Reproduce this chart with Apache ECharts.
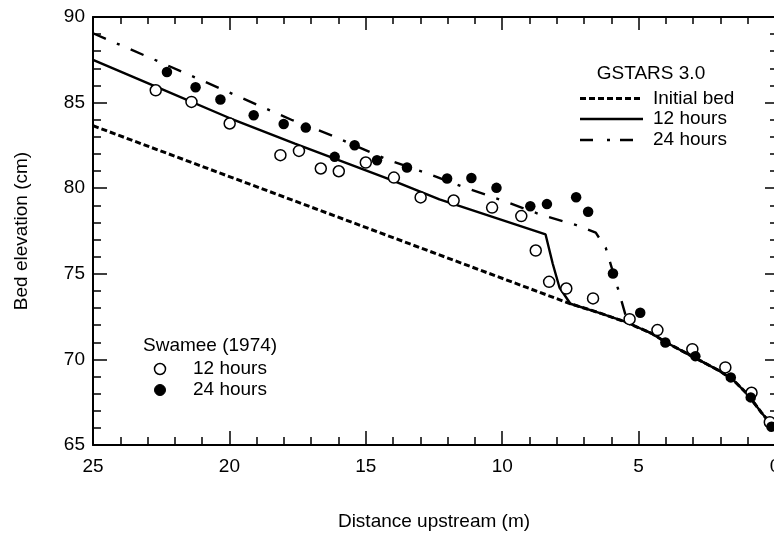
<!DOCTYPE html>
<html>
<head>
<meta charset="utf-8">
<script src="https://cdn.jsdelivr.net/npm/echarts@6/dist/echarts.min.js"></script>
<style>
html,body{margin:0;padding:0;background:#fff;}
#chart{width:774px;height:535px;}
</style>
</head>
<body>
<div id="chart"></div>
<script>
const initialBedX = [25, 7.5, 6.5, 5.5, 4.5, 4.0, 3.0, 2.0, 1.5, 1.0, 0.5, 0];
const initialBedY = [83.65, 73.25, 72.75, 72.2, 71.5, 71.0, 70.15, 69.3, 68.75, 67.95, 66.9, 65.95];
const run12X = [25, 22.5, 20, 17.6, 14.1, 12.3, 10.3, 8.41, 8.15, 7.9, 7.5, 6.5, 5.5, 4.5, 4.0, 3.0, 2.0, 1.5, 1.0, 0.5, 0];
const run12Y = [87.5, 85.8, 84.1, 82.6, 80.5, 79.35, 78.3, 77.3, 75.6, 74.2, 73.25, 72.75, 72.2, 71.5, 71.0, 70.15, 69.3, 68.75, 67.95, 66.9, 65.95];
const run24X = [25, 22.55, 19.72, 17.69, 16.26, 14.24, 12.9, 11.44, 10.03, 8.63, 7.28, 6.57, 6.2, 5.75, 5.4, 4.5, 4.0, 3.0, 2.0, 1.5, 1.0, 0.5, 0];
const run24Y = [89.05, 87.37, 85.39, 83.97, 83.09, 81.69, 80.95, 80.08, 79.3, 78.48, 77.84, 77.4, 76.5, 74.1, 72.15, 71.5, 71.0, 70.15, 69.3, 68.75, 67.95, 66.9, 65.95];
const obs12X = [22.70, 21.39, 19.99, 18.13, 17.45, 16.65, 15.99, 15.00, 13.97, 12.99, 11.78, 10.37, 9.30, 8.77, 8.28, 7.65, 6.67, 5.33, 4.31, 3.03, 1.82, 0.86, 0.19];
const obs12Y = [85.72, 85.04, 83.78, 81.93, 82.18, 81.15, 80.99, 81.50, 80.62, 79.46, 79.28, 78.87, 78.37, 76.36, 74.53, 74.14, 73.56, 72.35, 71.71, 70.60, 69.53, 68.05, 66.33];
const obs24X = [22.29, 21.24, 20.33, 19.11, 18.01, 17.20, 16.14, 15.41, 14.59, 13.49, 12.02, 11.13, 10.21, 8.97, 8.36, 7.29, 6.85, 5.94, 4.94, 4.02, 2.92, 1.62, 0.89, 0.13];
const obs24Y = [86.79, 85.90, 85.18, 84.26, 83.75, 83.54, 81.83, 82.51, 81.63, 81.21, 80.57, 80.60, 80.02, 78.95, 79.07, 79.47, 78.62, 75.02, 72.72, 70.99, 70.19, 68.95, 67.78, 66.07];
const xRange = [0, 25];
const yRange = [65, 90];
const majorStep = 5;
const minorStep = 1;
const modelLegendTitle = 'GSTARS 3.0';
const modelLabels = ['Initial bed', '12 hours', '24 hours'];
const obsLegendTitle = 'Swamee (1974)';
const obsLabels = ['12 hours', '24 hours'];

const pairs = (xs, ys) => xs.map((x, i) => [x, ys[i]]);
const FONT = '"Liberation Sans", Arial, Helvetica, sans-serif';
const BLACK = '#000';

function axis(dim, gridIndex, position, step, tickLen, showLine, extra) {
  const range = dim === 'x' ? xRange : yRange;
  return Object.assign({
    type: 'value', gridIndex: gridIndex, position: position,
    min: range[0], max: range[1], interval: step, inverse: dim === 'x',
    axisLine: { show: showLine, onZero: false, lineStyle: { color: BLACK, width: 2 } },
    axisTick: { show: true, inside: true, length: tickLen, lineStyle: { color: BLACK, width: 1.5 } },
    axisLabel: { show: false },
    splitLine: { show: false }
  }, extra || {});
}

const chart = echarts.init(document.getElementById('chart'), null, { renderer: 'canvas' });

const legendItems = [];
legendItems.push({ type: 'text', x: 651, y: 74, style: { text: modelLegendTitle, font: '19px ' + FONT, fill: BLACK, textAlign: 'center', textVerticalAlign: 'middle' } });
const lineYs = [98.5, 119, 140];
const lineDashes = [[6, 3], null, [13, 14, 3, 10]];
lineYs.forEach((ly, i) => {
  legendItems.push({ type: 'line', shape: { x1: 580, y1: ly, x2: i === 2 ? 633 : 643, y2: ly }, style: { stroke: BLACK, lineWidth: i === 0 ? 3 : 2.5, lineDash: lineDashes[i] } });
  legendItems.push({ type: 'text', x: 653, y: ly, style: { text: modelLabels[i], font: '19px ' + FONT, fill: BLACK, textAlign: 'left', textVerticalAlign: 'middle' } });
});
legendItems.push({ type: 'text', x: 143, y: 346, style: { text: obsLegendTitle, font: '19px ' + FONT, fill: BLACK, textAlign: 'left', textVerticalAlign: 'middle' } });
legendItems.push({ type: 'circle', shape: { cx: 160, cy: 369, r: 5.5 }, style: { fill: '#fff', stroke: BLACK, lineWidth: 1.5 } });
legendItems.push({ type: 'text', x: 193, y: 369, style: { text: obsLabels[0], font: '19px ' + FONT, fill: BLACK, textAlign: 'left', textVerticalAlign: 'middle' } });
legendItems.push({ type: 'circle', shape: { cx: 160, cy: 390, r: 5.5 }, style: { fill: BLACK, stroke: BLACK, lineWidth: 1 } });
legendItems.push({ type: 'text', x: 193, y: 390, style: { text: obsLabels[1], font: '19px ' + FONT, fill: BLACK, textAlign: 'left', textVerticalAlign: 'middle' } });

const gridRect = { left: 93, width: 682, top: 17, height: 428, containLabel: false, outerBoundsMode: 'none' };

const option = {
  backgroundColor: '#fff',
  animation: false,
  textStyle: { fontFamily: FONT },
  grid: [Object.assign({}, gridRect), Object.assign({}, gridRect)],
  xAxis: [
    axis('x', 0, 'bottom', majorStep, 14, true, {
      axisLabel: { show: true, fontSize: 19, color: BLACK, margin: 12, fontFamily: FONT },
      name: 'Distance upstream (m)', nameLocation: 'middle', nameGap: 67,
      nameTextStyle: { fontSize: 19, color: BLACK, fontFamily: FONT }
    }),
    axis('x', 0, 'top', majorStep, 13, true),
    axis('x', 1, 'bottom', minorStep, 8, false),
    axis('x', 1, 'top', minorStep, 7, false)
  ],
  yAxis: [
    axis('y', 0, 'left', majorStep, 14, true, {
      axisLabel: { show: true, fontSize: 19, color: BLACK, margin: 8, fontFamily: FONT },
      name: 'Bed elevation (cm)', nameLocation: 'middle', nameGap: 62,
      nameTextStyle: { fontSize: 19, color: BLACK, fontFamily: FONT }
    }),
    axis('y', 0, 'right', majorStep, 10, true),
    axis('y', 1, 'left', minorStep, 8, false),
    axis('y', 1, 'right', minorStep, 5, false)
  ],
  series: [
    { name: 'Initial bed', type: 'line', xAxisIndex: 0, yAxisIndex: 0, data: pairs(initialBedX, initialBedY), showSymbol: false, symbol: 'none',
      lineStyle: { color: BLACK, width: 3, type: [6, 3] }, z: 2 },
    { name: '12 hours', type: 'line', xAxisIndex: 0, yAxisIndex: 0, data: pairs(run12X, run12Y), showSymbol: false, symbol: 'none',
      lineStyle: { color: BLACK, width: 2.4, type: 'solid' }, z: 3 },
    { name: '24 hours', type: 'line', xAxisIndex: 0, yAxisIndex: 0, data: pairs(run24X, run24Y), showSymbol: false, symbol: 'none',
      lineStyle: { color: BLACK, width: 2.4, type: [14, 12, 3, 12] }, z: 3 },
    { name: 'Swamee 12 hours', type: 'scatter', xAxisIndex: 0, yAxisIndex: 0, data: pairs(obs12X, obs12Y), symbol: 'circle', symbolSize: 11,
      itemStyle: { color: '#fff', borderColor: BLACK, borderWidth: 1.5, opacity: 1 }, z: 4 },
    { name: 'Swamee 24 hours', type: 'scatter', xAxisIndex: 0, yAxisIndex: 0, data: pairs(obs24X, obs24Y), symbol: 'circle', symbolSize: 10.5,
      itemStyle: { color: BLACK, borderColor: BLACK, borderWidth: 0, opacity: 1 }, z: 5 }
  ],
  graphic: legendItems
};
chart.setOption(option);
</script>
</body>
</html>
